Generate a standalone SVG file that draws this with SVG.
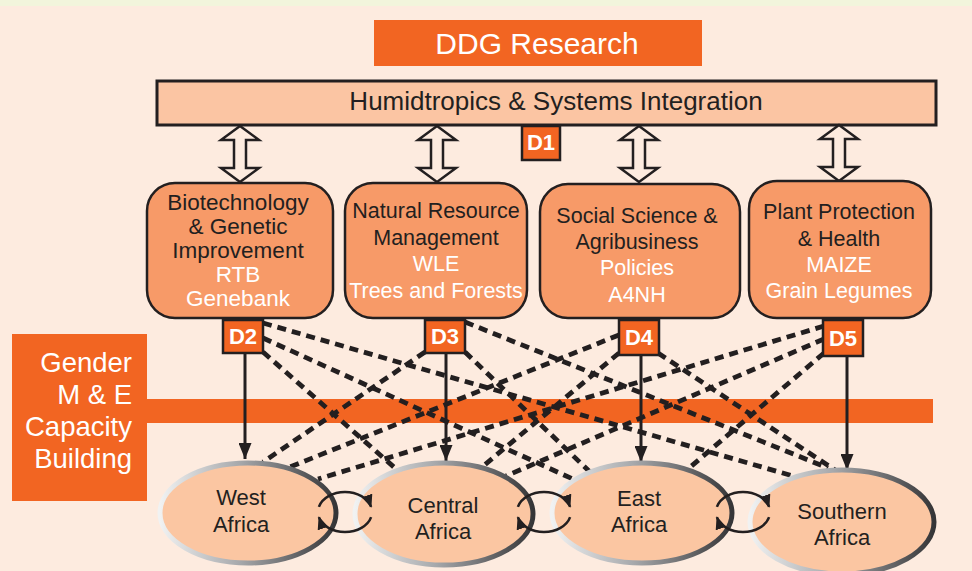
<svg xmlns="http://www.w3.org/2000/svg" xmlns:xlink="http://www.w3.org/1999/xlink" width="972" height="571" viewBox="0 0 972 571">
<style>
text{font-family:"Liberation Sans",Arial,sans-serif;}
.dk{fill:#231f20;}
.wt{fill:#ffffff;}
.bx{fill:#f79a68;stroke:#231f20;stroke-width:2.5;}
.dbox{fill:#f26522;stroke:#231f20;stroke-width:2.5;}
.dlab{font-weight:bold;font-size:22px;fill:#ffffff;text-anchor:middle;}
.bt{font-size:21.5px;text-anchor:middle;}
.el{fill:#fbc6a2;stroke:url(#eg);stroke-width:5;}
.et{font-size:22px;text-anchor:middle;fill:#231f20;}
.dash{stroke:#231f20;stroke-width:4.8;stroke-dasharray:9 6;fill:none;}
.vert{stroke:#231f20;stroke-width:3;fill:none;marker-end:url(#ah);}
.loop{stroke:#231f20;stroke-width:2.5;fill:none;marker-end:url(#sh);}
.dbl{fill:#fdebdf;stroke:#231f20;stroke-width:2.5;stroke-linejoin:miter;}
</style>
<defs>
<linearGradient id="eg" x1="0" y1="0" x2="1" y2="0">
<stop offset="0" stop-color="#f1f2f2"/>
<stop offset="0.45" stop-color="#a7a9ac"/>
<stop offset="1" stop-color="#353537"/>
</linearGradient>
<marker id="ah" viewBox="0 0 16 13" markerWidth="16" markerHeight="13" refX="16" refY="6.5" orient="auto" markerUnits="userSpaceOnUse">
<path d="M0,0 L16,6.5 L0,13 z" fill="#231f20"/>
</marker>
<marker id="sh" viewBox="0 0 13 11" markerWidth="13" markerHeight="11" refX="12" refY="5.5" orient="auto" markerUnits="userSpaceOnUse">
<path d="M0,0 L13,5.5 L0,11 z" fill="#231f20"/>
</marker>
<path id="dblarrow" d="M0,126 L19,140 L6,140 L6,168 L19,168 L0,182 L-19,168 L-6,168 L-6,140 L-19,140 Z"/>
<g id="loop">
<path d="M-26.1,-5.2 A27 20 0 0 1 26.1,-5.2"/>
<path d="M26.1,5.2 A27 20 0 0 1 -26.1,5.2"/>
</g>
</defs>
<rect x="0" y="0" width="972" height="571" fill="#fdebdf"/>
<rect x="0" y="0" width="972" height="6" fill="#f2f5dc"/>

<g id="band"><rect x="147" y="399" width="786" height="24" fill="#f26522"/></g>

<g id="ddg">
<rect x="374" y="20" width="328" height="46" fill="#f26522"/>
<text x="537" y="54" font-size="30" text-anchor="middle" class="wt">DDG Research</text>
</g>

<g id="humidtropics">
<rect x="157" y="81" width="779" height="44" fill="#fbc5a3" stroke="#231f20" stroke-width="3"/>
<text x="556" y="110" font-size="26" text-anchor="middle" class="dk">Humidtropics &amp; Systems Integration</text>
</g>

<g id="d1">
<rect x="522" y="126" width="38" height="34" class="dbox"/>
<text x="541" y="150" class="dlab">D1</text>
</g>

<g id="double-arrows" class="dbl">
<use xlink:href="#dblarrow" href="#dblarrow" x="240"/>
<use xlink:href="#dblarrow" href="#dblarrow" x="437"/>
<use xlink:href="#dblarrow" href="#dblarrow" x="639"/>
<use xlink:href="#dblarrow" href="#dblarrow" x="839" y="-1"/>
</g>

<g id="gender">
<rect x="12" y="334" width="135" height="167" fill="#f26522"/>
<g font-size="27.5" text-anchor="end" class="wt">
<text x="132" y="372">Gender</text>
<text x="132" y="404">M &amp; E</text>
<text x="132" y="436">Capacity</text>
<text x="132" y="468">Building</text>
</g>
</g>

<g id="box-biotech">
<rect x="147" y="183" width="186" height="135" rx="28" class="bx"/>
<g font-size="22.5" text-anchor="middle">
<text x="238" y="210" class="dk">Biotechnology</text>
<text x="238" y="234" class="dk">&amp; Genetic</text>
<text x="238" y="258" class="dk">Improvement</text>
<text x="238" y="282" class="wt">RTB</text>
<text x="238" y="306" class="wt">Genebank</text>
</g>
</g>
<g id="box-nrm">
<rect x="345" y="183" width="182" height="135" rx="28" class="bx"/>
<text x="436" y="218" class="bt dk">Natural Resource</text>
<text x="436" y="245" class="bt dk">Management</text>
<text x="436" y="271" class="bt wt">WLE</text>
<text x="436" y="298" class="bt wt">Trees and Forests</text>
</g>
<g id="box-social">
<rect x="540" y="184" width="200" height="134" rx="28" class="bx"/>
<text x="637" y="223" class="bt dk">Social Science &amp;</text>
<text x="637" y="249" class="bt dk">Agribusiness</text>
<text x="637" y="275" class="bt wt">Policies</text>
<text x="637" y="302" class="bt wt">A4NH</text>
</g>
<g id="box-plant">
<rect x="749" y="181" width="182" height="137" rx="28" class="bx"/>
<text x="839" y="219" class="bt dk">Plant Protection</text>
<text x="839" y="246" class="bt dk">&amp; Health</text>
<text x="839" y="272" class="bt wt">MAIZE</text>
<text x="839" y="298" class="bt wt">Grain Legumes</text>
</g>

<g id="connectors">
<line class="dash" x1="263" y1="323" x2="800" y2="478"/>
<line class="dash" x1="263" y1="338" x2="575" y2="480"/>
<line class="dash" x1="263" y1="352" x2="395" y2="468"/>
<line class="dash" x1="425" y1="352" x2="263" y2="462"/>
<line class="dash" x1="465" y1="352" x2="590" y2="472"/>
<line class="dash" x1="465" y1="322" x2="828" y2="468"/>
<line class="dash" x1="619" y1="335" x2="290" y2="467"/>
<line class="dash" x1="619" y1="353" x2="482" y2="467"/>
<line class="dash" x1="658" y1="353" x2="835" y2="470"/>
<line class="dash" x1="824" y1="326" x2="318" y2="479"/>
<line class="dash" x1="824" y1="339" x2="506" y2="476"/>
<line class="dash" x1="824" y1="353" x2="688" y2="469"/>
<line class="vert" x1="245" y1="353" x2="245" y2="459"/>
<line class="vert" x1="446" y1="353" x2="446" y2="461"/>
<line class="vert" x1="641" y1="355" x2="641" y2="462"/>
<line class="vert" x1="847" y1="356" x2="847" y2="470"/>
</g>

<g id="d2"><rect x="223" y="320" width="40" height="33" class="dbox"/><text x="243" y="344" class="dlab">D2</text></g>
<g id="d3"><rect x="425" y="320" width="40" height="33" class="dbox"/><text x="445" y="344" class="dlab">D3</text></g>
<g id="d4"><rect x="619" y="320" width="40" height="35" class="dbox"/><text x="639" y="345" class="dlab">D4</text></g>
<g id="d5"><rect x="823" y="320" width="40" height="36" class="dbox"/><text x="843" y="346" class="dlab">D5</text></g>

<g id="west">
<ellipse cx="248" cy="513" rx="88" ry="50" class="el"/>
<text x="241" y="505" class="et">West</text>
<text x="241" y="532" class="et">Africa</text>
</g>
<g id="central">
<ellipse cx="444" cy="514" rx="89" ry="51" class="el"/>
<text x="443" y="513" class="et">Central</text>
<text x="443" y="539" class="et">Africa</text>
</g>
<g id="east">
<ellipse cx="642" cy="513" rx="90" ry="50" class="el"/>
<text x="639" y="506" class="et">East</text>
<text x="639" y="532" class="et">Africa</text>
</g>
<g id="southern">
<ellipse cx="842" cy="522" rx="92" ry="52" class="el"/>
<text x="842" y="519" class="et">Southern</text>
<text x="842" y="545" class="et">Africa</text>
</g>

<g id="loops" class="loop">
<use xlink:href="#loop" href="#loop" x="345" y="512"/>
<use xlink:href="#loop" href="#loop" x="544" y="512"/>
<use xlink:href="#loop" href="#loop" x="743" y="512"/>
</g>
</svg>
